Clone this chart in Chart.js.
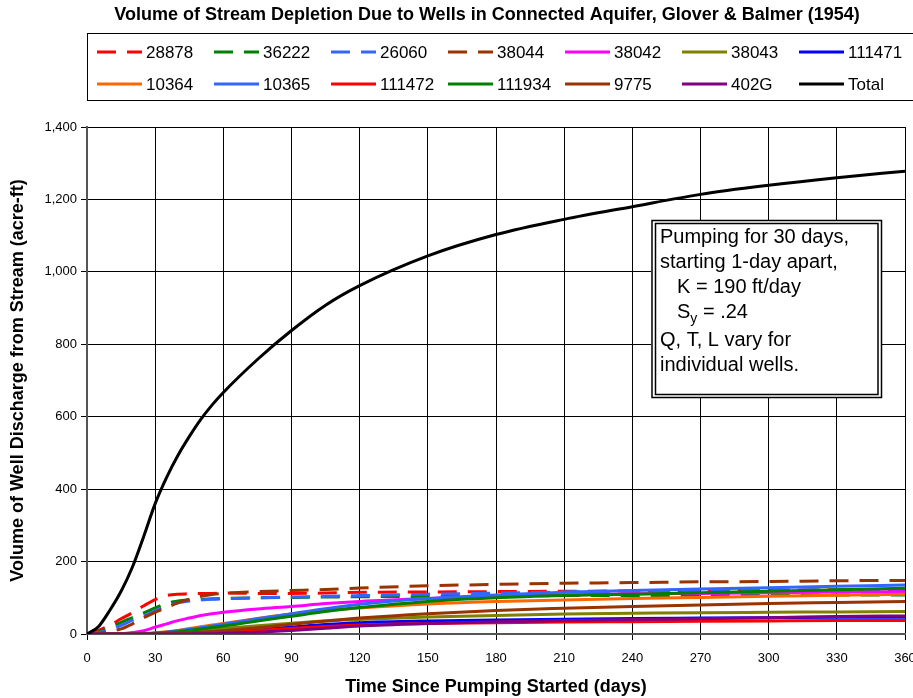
<!DOCTYPE html>
<html>
<head>
<meta charset="utf-8">
<script src="https://cdn.jsdelivr.net/npm/chart.js@4.4.1/dist/chart.umd.min.js"></script>
<style>
  html, body { margin: 0; padding: 0; background: #fff; overflow: hidden; }
  #wrap { width: 930px; height: 698px; position: relative; }
</style>
</head>
<body>
<div id="wrap"><canvas id="chart"></canvas></div>
<script>
// days since pumping started
const days = [0,5,10,15,20,25,30,35,40,45,50,55,60,75,90,105,120,150,180,210,240,270,300,330,360];

// cumulative stream depletion per well (acre-ft)
const w28878  = [0,10,24,42,59,78,95,106,110,111,112,112,113,112,112,113,115,116,117,118,119,120,121,122,123];
const w36222  = [0,6,18,32,45,58,72,85,91,94,96,97,98,100,101,102,103,104,105,106,106,107,107,108,108];
const w26060  = [0,4,12,24,38,50,64,77,86,91,94,96,97,100,102,104,106,110,113,116,118,120,121,122,122];
const w38044  = [0,2,7,14,28,45,60,73,86,96,104,109,112,117,120,123,127,133,137,140,142,144,145,147,148];
const w38042  = [0,0,0,1,4,9,19,28,37,44,51,56,60,69,76,84,90,98,104,108,111,112,114,116,117];
const w38043  = [0,0,0,0,0,0,1,2,4,6,9,12,15,23,30,36,40,47,51,55,57,59,60,61,62];
const w111471 = [0,0,0,0,0,0,0,0,1,2,3,4,6,12,19,26,31,36,39,41,43,44,45,46,46];
const w10364  = [0,0,0,0,0,1,3,6,10,15,20,25,29,43,55,65,72,83,90,94,98,101,104,107,110];
const w10365  = [0,0,0,0,0,1,3,5,9,13,17,22,27,42,56,70,82,98,108,115,120,124,128,132,135];
const w111472 = [0,0,0,0,0,0,0,0,1,2,3,4,5,10,15,21,25,29,31,33,34,35,36,37,37];
const w111934 = [0,0,0,0,0,0,2,4,6,10,14,18,22,36,49,62,73,90,100,106,110,114,118,122,126];
const w9775   = [0,0,0,0,0,0,0,1,2,3,5,7,9,17,27,36,44,56,65,71,76,80,84,87,90];
const w402G   = [0,0,0,0,0,0,0,0,0,0,1,1,2,5,10,16,22,29,34,37,40,42,45,48,50];
const total   = [0,20,65,118,185,270,360,432,493,545,592,632,667,758,838,908,962,1044,1103,1145,1180,1214,1239,1260,1278];

const labels = ['28878','36222','26060','38044','38042','38043','111471','10364','10365','111472','111934','9775','402G','Total'];
const values = [w28878,w36222,w26060,w38044,w38042,w38043,w111471,w10364,w10365,w111472,w111934,w9775,w402G,total];
const colors = ['#FF0000','#008000','#3366FF','#993300','#FF00FF','#808000','#0000FF','#FF6600','#3366FF','#FF0000','#008000','#993300','#800080','#000000'];
const dashed = [true,true,true,true,false,false,false,false,false,false,false,false,false,false];

const noteLines = ['Pumping for 30 days,', 'starting 1-day apart,', 'K = 190 ft/day', 'S|y| = .24', 'Q, T, L vary for', 'individual wells.'];

const FONT = '"Liberation Sans", Arial, Helvetica, sans-serif';
Chart.defaults.font.family = FONT;
Chart.defaults.color = '#000';

const datasets = labels.map((lab, i) => ({
  label: lab,
  data: days.map((d, j) => ({ x: d, y: values[i][j] })),
  borderColor: colors[i],
  backgroundColor: colors[i],
  borderWidth: 3,
  borderDash: dashed[i] ? [19, 11] : [],
  pointRadius: 0,
  cubicInterpolationMode: 'monotone',
  fill: false,
  order: labels.length - i
}));

// title, legend grid and note box, drawn on the canvas
const extras = {
  id: 'extras',
  afterDraw(chart) {
    const ctx = chart.ctx;
    ctx.save();
    ctx.fillStyle = '#000';
    ctx.font = 'bold 18px ' + FONT;
    ctx.textAlign = 'center';
    ctx.textBaseline = 'middle';
    ctx.fillText('Volume of Stream Depletion Due to Wells in Connected Aquifer, Glover & Balmer (1954)', 487, 15);

    // legend
    ctx.strokeStyle = '#000';
    ctx.lineWidth = 1;
    ctx.strokeRect(87.5, 33.5, 840, 67);
    ctx.textAlign = 'left';
    ctx.font = '17px ' + FONT;
    chart.data.datasets.forEach((ds, i) => {
      const x = 97 + (i % 7) * 117;
      const y = 52 + Math.floor(i / 7) * 32;
      ctx.beginPath();
      ctx.setLineDash(ds.borderDash);
      ctx.strokeStyle = ds.borderColor;
      ctx.lineWidth = 3;
      ctx.moveTo(x, y);
      ctx.lineTo(x + 45, y);
      ctx.stroke();
      ctx.setLineDash([]);
      ctx.fillStyle = '#000';
      ctx.fillText(ds.label, x + 49, y + 1);
    });

    // note box
    ctx.fillStyle = '#fff';
    ctx.fillRect(651, 220, 231, 178);
    ctx.strokeStyle = '#000';
    ctx.lineWidth = 1.5;
    ctx.strokeRect(652, 220.5, 229.5, 177);
    ctx.strokeRect(655.5, 223.5, 222.5, 171);
    ctx.fillStyle = '#000';
    ctx.textBaseline = 'alphabetic';
    const base = [243, 268, 293, 318, 346, 371];
    noteLines.forEach((t, k) => {
      let x = (k === 2 || k === 3) ? 677 : 660;
      t.split('|').forEach((p, n) => {
        ctx.font = (n === 1 ? '14px ' : '20px ') + FONT;
        ctx.fillText(p, x, base[k] + (n === 1 ? 5 : 0));
        x += ctx.measureText(p).width;
      });
    });
    ctx.restore();
  }
};

new Chart(document.getElementById('chart'), {
  type: 'line',
  data: { datasets },
  plugins: [extras],
  options: {
    responsive: true,
    maintainAspectRatio: false,
    animation: false,
    layout: { padding: { top: 127, right: 25, left: 0, bottom: 0 } },
    plugins: { legend: { display: false }, title: { display: false }, tooltip: { enabled: false } },
    scales: {
      x: {
        type: 'linear', min: 0, max: 360,
        ticks: { stepSize: 30, font: { size: 13 }, color: '#000', padding: 11, maxRotation: 0 },
        grid: { color: '#000', tickColor: '#000', tickLength: 6 },
        border: { color: '#555', width: 2 },
        title: { display: true, text: 'Time Since Pumping Started (days)', font: { size: 18, weight: 'bold' }, color: '#000', padding: { top: 0, bottom: 0 } },
        afterFit(s) { s.height = 64; }
      },
      y: {
        min: 0, max: 1400,
        ticks: { stepSize: 200, font: { size: 13 }, color: '#000', padding: 4 },
        grid: { color: '#000', tickColor: '#000', tickLength: 6 },
        border: { color: '#555', width: 2 },
        title: { display: true, text: 'Volume of Well Discharge from Stream (acre-ft)', font: { size: 18, weight: 'bold' }, color: '#000', padding: { top: 7, bottom: 0 } },
        afterFit(s) { s.width = 87; }
      }
    }
  }
});
</script>
</body>
</html>
